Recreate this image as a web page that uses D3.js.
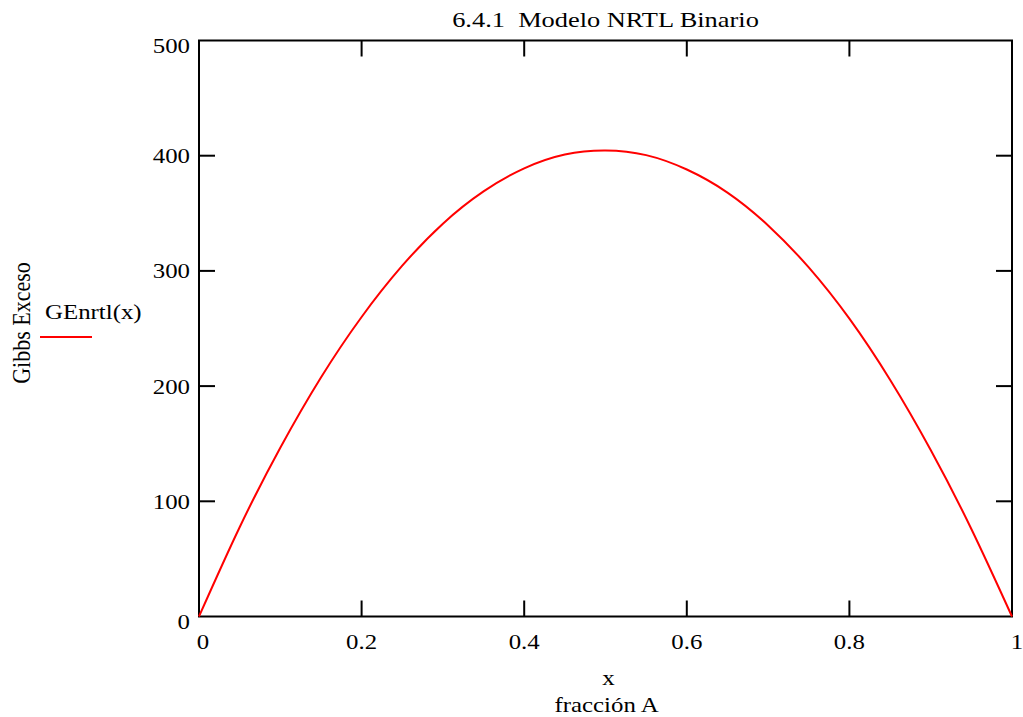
<!DOCTYPE html>
<html>
<head>
<meta charset="utf-8">
<script src="https://cdn.jsdelivr.net/npm/d3@7"></script>
<style>
  body { margin: 0; background: #fff; }
  svg text { font-family: "Liberation Serif", "DejaVu Serif", serif; fill: #000; white-space: pre; }
</style>
</head>
<body>
<svg id="chart" width="1023" height="717"></svg>
<script>
// fracción A
const xValues = [0, 0.05, 0.1, 0.15, 0.2, 0.25, 0.3, 0.35, 0.4, 0.45, 0.5,
  0.55, 0.6, 0.65, 0.7, 0.75, 0.8, 0.85, 0.9, 0.95, 1];
// GEnrtl(x)
const geValues = [0, 77.5, 146.5, 207.5, 260, 304.5, 341, 369, 389, 401, 404.5,
  400.5, 388, 368, 339.5, 303, 258.5, 205.5, 144.5, 76, 0];
const xTicks = [0, 0.2, 0.4, 0.6, 0.8, 1];
const yTicks = [0, 100, 200, 300, 400, 500];

const margin = {left: 199, right: 1012, top: 40.5, bottom: 616.5};
const tickLen = 16;
const fontFam = '"Liberation Serif", "DejaVu Serif", serif';
const stretch = 1.13; // the reference text is a bit wide

const svg = d3.select('#chart');

const x = d3.scaleLinear().domain([0, 1]).range([margin.left, margin.right]);
const y = d3.scaleLinear().domain([0, 500]).range([margin.bottom, margin.top]);

const addText = (px, py, str, anchor, sx, rot) => svg.append('text')
  .attr('transform', `translate(${px},${py}) scale(${sx || stretch},1)` + (rot ? ` rotate(${rot})` : ''))
  .attr('text-anchor', anchor || 'start')
  .attr('font-family', fontFam)
  .attr('font-size', 22)
  .text(str);

// title
addText((margin.left + margin.right) / 2, 27, '6.4.1  Modelo NRTL Binario', 'middle', 1.2)
  .attr('xml:space', 'preserve');

// ticks inside on all four sides
const ticks = svg.append('g').attr('stroke', '#000').attr('stroke-width', 2);
xTicks.slice(1, -1).forEach(t => {
  ticks.append('line').attr('x1', x(t)).attr('x2', x(t))
    .attr('y1', margin.bottom).attr('y2', margin.bottom - tickLen);
  ticks.append('line').attr('x1', x(t)).attr('x2', x(t))
    .attr('y1', margin.top).attr('y2', margin.top + tickLen);
});
yTicks.slice(1, -1).forEach(t => {
  ticks.append('line').attr('x1', margin.left).attr('x2', margin.left + tickLen)
    .attr('y1', y(t)).attr('y2', y(t));
  ticks.append('line').attr('x1', margin.right).attr('x2', margin.right - tickLen)
    .attr('y1', y(t)).attr('y2', y(t));
});

// frame
svg.append('rect')
  .attr('x', margin.left).attr('y', margin.top)
  .attr('width', margin.right - margin.left)
  .attr('height', margin.bottom - margin.top)
  .attr('fill', 'none').attr('stroke', '#000').attr('stroke-width', 2);

// tick labels
xTicks.forEach(d => addText(x(d) + (d === 0 ? 4 : d === 1 ? 5 : 0), 648.5, d, 'middle'));
yTicks.forEach(d => addText(190, y(d) + (d === 0 || d === 500 ? 12.5 : 7.5), d, 'end'));

// axis titles
addText((margin.left + margin.right) / 2 + 3, 685, 'x', 'middle');
addText((margin.left + margin.right) / 2 + 1, 711.5, 'fracción A', 'middle');
addText(30, 323, 'Gibbs Exceso', 'middle', stretch, -90);

// legend
addText(45, 319, 'GEnrtl(x)');
svg.append('line')
  .attr('x1', 40).attr('x2', 92)
  .attr('y1', 337).attr('y2', 337)
  .attr('stroke', 'red').attr('stroke-width', 2);

// curve
const line = d3.line()
  .x((d, i) => x(xValues[i]))
  .y(d => y(d))
  .curve(d3.curveNatural);

svg.append('path')
  .datum(geValues)
  .attr('d', line)
  .attr('fill', 'none')
  .attr('stroke', 'red')
  .attr('stroke-width', 2);
</script>
</body>
</html>
